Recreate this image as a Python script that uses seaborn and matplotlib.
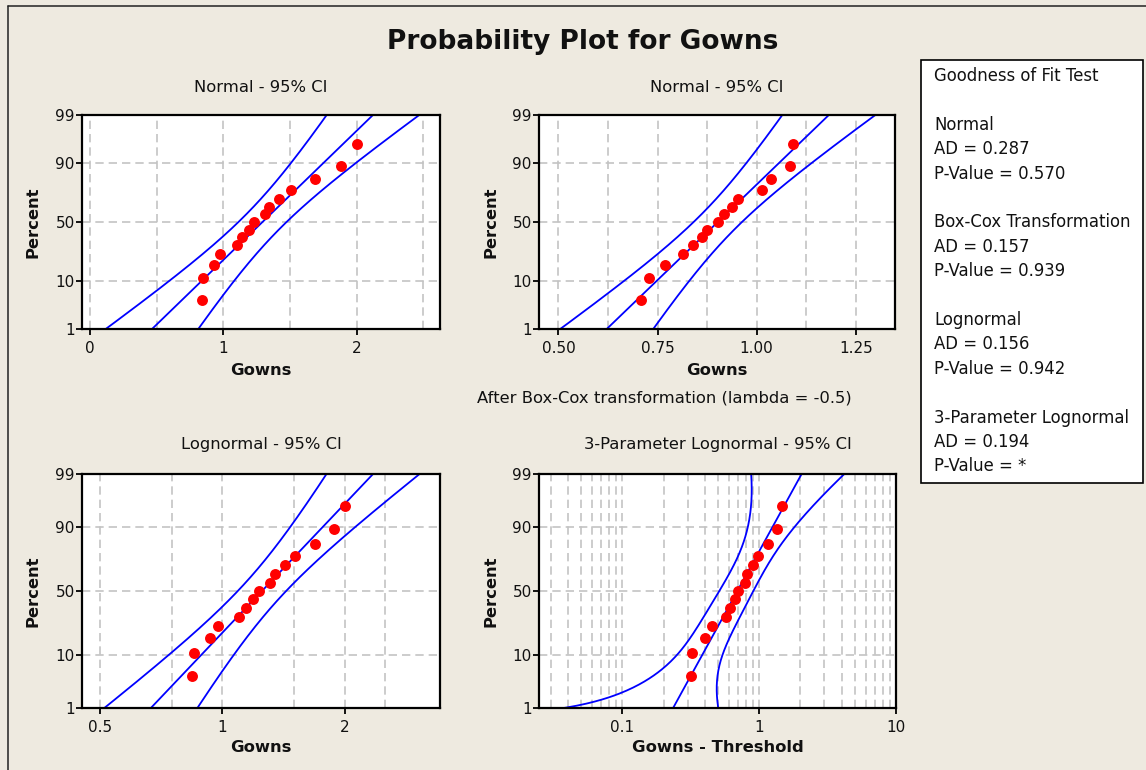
import math
from statistics import NormalDist

import numpy as np
import matplotlib
matplotlib.use("Agg")
import matplotlib.pyplot as plt
from matplotlib.lines import Line2D
from matplotlib.patches import Rectangle
from matplotlib.ticker import NullLocator, NullFormatter, FixedLocator
import seaborn as sns

# ---------------------------------------------------------------- data
gowns = [0.84, 0.85, 0.93, 0.975, 1.10, 1.14, 1.19, 1.23, 1.31, 1.345,
         1.42, 1.505, 1.69, 1.88, 2.00]
boxcox_lambda = -0.5
threshold = 0.525
# covariance of the (threshold, location, scale) estimates of the 3-parameter fit
threshold_cov = [[0.190, -0.304, 0.1406],
                 [-0.304, 0.5027, -0.2250],
                 [0.1406, -0.2250, 0.1160]]

fit_names = ["Normal", "Box-Cox Transformation", "Lognormal", "3-Parameter Lognormal"]
ad_values = ["0.287", "0.157", "0.156", "0.194"]
p_values = ["0.570", "0.939", "0.942", "*"]

panel_titles = ["Normal - 95% CI", "Normal - 95% CI",
                "Lognormal - 95% CI", "3-Parameter Lognormal - 95% CI"]
panel_xlabels = ["Gowns", "Gowns", "Gowns", "Gowns - Threshold"]
percent_ticks = [1, 10, 50, 90, 99]
x_ticks = [[0, 1, 2], [0.50, 0.75, 1.00, 1.25], [0.5, 1, 2], [0.1, 1, 10]]
x_ticklabels = [["0", "1", "2"], ["0.50", "0.75", "1.00", "1.25"],
                ["0.5", "1", "2"], ["0.1", "1", "10"]]
x_grid = [[0.5, 1.5, 2.5],
          [0.625, 0.875, 1.125],
          [0.75, 1.5, 2.5],
          [k * 10.0 ** d for d in (-2, -1, 0) for k in range(2, 10) if k * 10.0 ** d > 0.025]]
x_limits = [(-0.06, 2.625), (0.451, 1.349), (0.452, 3.42), (0.0246, 10.0)]

# ---------------------------------------------------------------- style
BG = "#EEEAE0"
BLUE = "#0000FF"
RED = "#FF0000"
GRID = "#C3C3C3"
INK = "#111111"

sns.set_style("white")
plt.rcParams["font.family"] = ["DejaVu Sans"]
plt.rcParams["lines.scale_dashes"] = False

W, H = 1146, 770
fig = plt.figure(figsize=(W / 100, H / 100), dpi=100, facecolor=BG)

_nd = NormalDist()
_inv = np.vectorize(_nd.inv_cdf, otypes=[float])
_cdf = np.vectorize(_nd.cdf, otypes=[float])


def prob_forward(p):
    p = np.clip(np.asarray(p, dtype=float) / 100.0, 1e-7, 1 - 1e-7)
    return _inv(p)


def prob_inverse(z):
    return 100.0 * _cdf(np.asarray(z, dtype=float))


# ---------------------------------------------------------------- fits
n = len(gowns)
crit = _nd.inv_cdf(0.975)
ranks = (np.arange(1, n + 1) - 0.3) / (n + 0.4) * 100.0
zline = np.linspace(-2.7, 2.7, 271)
pline = prob_inverse(zline)


def normal_fit(values, ddof=1):
    v = np.sort(np.asarray(values, dtype=float))
    m, s = v.mean(), v.std(ddof=ddof)
    fit = m + zline * s
    se = s * np.sqrt((1 + zline ** 2 / 2) / n)
    return v, fit, fit - crit * se, fit + crit * se


data = np.asarray(gowns, dtype=float)
panels = []
panels.append(normal_fit(data))
panels.append(normal_fit(np.power(data, boxcox_lambda)))
lv, lf, llo, lhi = normal_fit(np.log(data))
panels.append((np.exp(lv), np.exp(lf), np.exp(llo), np.exp(lhi)))

# 3-parameter lognormal: percentile bounds from the delta method on X_p
shifted = np.sort(data) - threshold
lx = np.log(shifted)
mu, sig = lx.mean(), lx.std()
e = np.exp(mu + zline * sig)
xp = threshold + e
grad = np.vstack([np.ones_like(e), e, zline * e])
var_xp = np.einsum("in,ij,jn->n", grad, np.asarray(threshold_cov), grad)
sdl = np.sqrt(var_xp) / xp
lo4 = xp * np.exp(-crit * sdl) - threshold
hi4 = xp * np.exp(crit * sdl) - threshold
lo4 = np.where(lo4 > 0, lo4, np.nan)
panels.append((shifted, e, lo4, hi4))

# ---------------------------------------------------------------- axes
boxes = [(82, 115, 440, 329), (539, 115, 895, 329),
         (82, 474, 440, 708), (539, 474, 896, 708)]
log_x = [False, False, True, True]

for i, (l, t, r, b) in enumerate(boxes):
    ax = fig.add_axes([l / W, 1 - b / H, (r - l) / W, (b - t) / H])
    ax.set_facecolor("white")
    pts, fit, lo, hi = panels[i]
    for curve in (lo, fit, hi):
        sns.lineplot(x=curve, y=pline, sort=False, estimator=None,
                     color=BLUE, linewidth=1.3, ax=ax)
    sns.scatterplot(x=pts, y=ranks, color=RED, s=62, linewidth=0,
                    ax=ax, zorder=3)
    ax.set(xlabel="", ylabel="")

    ax.set_yscale("function", functions=(prob_forward, prob_inverse))
    if log_x[i]:
        ax.set_xscale("log")
    ax.set_ylim(1, 99)
    ax.set_xlim(*x_limits[i])

    ax.yaxis.set_major_locator(FixedLocator(percent_ticks))
    ax.set_yticklabels([str(p) for p in percent_ticks])
    ax.yaxis.set_minor_locator(NullLocator())
    ax.xaxis.set_major_locator(FixedLocator(x_ticks[i]))
    ax.set_xticklabels(x_ticklabels[i])
    ax.xaxis.set_minor_locator(FixedLocator(x_grid[i]))
    ax.xaxis.set_minor_formatter(NullFormatter())

    grid_kw = dict(color=GRID, linewidth=1.2, linestyle=(0, (6.0, 3.6)))
    ax.grid(True, which="both", axis="x", **grid_kw)
    ax.grid(True, which="major", axis="y", **grid_kw)
    ax.set_axisbelow(True)

    for sp in ax.spines.values():
        sp.set_visible(True)
        sp.set_color("black")
        sp.set_linewidth(1.6)
    ax.tick_params(axis="both", which="major", direction="out", length=4,
                   width=1.3, color="black", labelsize=11, labelcolor=INK)
    ax.tick_params(axis="y", which="major", pad=1.2)
    ax.tick_params(axis="x", which="major", pad=4.6)
    ax.tick_params(which="minor", length=0)
    ax.tick_params(top=False, right=False, left=True, bottom=True)

    cx = (l + r) / 2
    title_y = 88 if t < 300 else 444
    xlab_y = 370 if t < 300 else 747
    fig.text(cx / W, 1 - title_y / H, panel_titles[i], ha="center", va="center",
             fontsize=11.8, color=INK)
    fig.text(cx / W, 1 - xlab_y / H, panel_xlabels[i], ha="center", va="center",
             fontsize=11.8, fontweight="bold", color=INK)
    ylab_x = 33 if l < 300 else 491
    fig.text(ylab_x / W, 1 - ((t + b) / 2) / H, "Percent", ha="center",
             va="center", rotation=90, fontsize=11.8, fontweight="bold",
             color=INK)

fig.text(664 / W, 1 - 398 / H, "After Box-Cox transformation (lambda = -0.5)",
         ha="center", va="center", fontsize=11.8, color=INK)

fig.text(583 / W, 1 - 42 / H, "Probability Plot for Gowns", ha="center",
         va="center", fontsize=19, fontweight="bold", color=INK)

# ---------------------------------------------------------------- goodness-of-fit panel
fig.add_artist(Rectangle((921 / W, 1 - 483 / H), (1143 - 921) / W, (483 - 60) / H,
                         transform=fig.transFigure, facecolor="white",
                         edgecolor="black", linewidth=1.2))
legend_lines = ["Goodness of Fit Test", ""]
for name, ad, pv in zip(fit_names, ad_values, p_values):
    legend_lines += [name, f"AD = {ad}", f"P-Value = {pv}", ""]
for k, line in enumerate(legend_lines):
    if line:
        fig.text(934 / W, 1 - (76 + 24.4 * k) / H, line, ha="left", va="center",
                 fontsize=11.9, color=INK)

# ---------------------------------------------------------------- outer frame
fig.add_artist(Line2D([8 / W, 8 / W], [0, 1 - 6 / H], transform=fig.transFigure,
                      color="#222222", linewidth=1.1))
fig.add_artist(Line2D([8 / W, 1], [1 - 6 / H, 1 - 6 / H], transform=fig.transFigure,
                      color="#222222", linewidth=1.1))

fig.savefig("out.png", dpi=100, facecolor=BG)
